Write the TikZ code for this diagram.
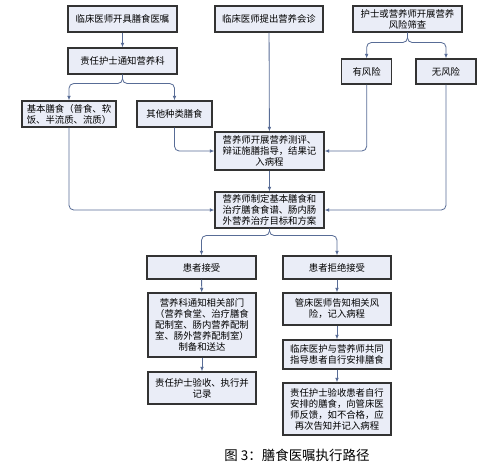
\documentclass[tikz,border=0pt]{standalone}
\usepackage{fontspec}
\usepackage{tikz}
\usetikzlibrary{arrows.meta,positioning,calc,shadows}
\usepackage{xcolor}
\newfontfamily\cjk{Noto Sans CJK SC}
\definecolor{linha}{RGB}{88,108,150}
\definecolor{caixa}{RGB}{234,237,247}

\begin{document}
\begin{tikzpicture}[
    caixa/.style={draw=black!80, line width=0.9pt, fill=caixa, align=center, inner sep=2pt,
        font=\cjk\fontsize{8}{9.4}\selectfont,
        drop shadow={shadow xshift=0.7pt, shadow yshift=-0.7pt, fill=black!30}},
    liga/.style={draw=linha, line width=0.7pt, rounded corners=4pt, -{Latex[length=4pt,width=3.2pt]}}
]
        \useasboundingbox (0,0) rectangle (14.97,-14.19);
        % Primeira linha: origem das solicitações
        \node[caixa, minimum width=3.27cm, minimum height=0.78cm] (medico) at (3.675,-0.57) {临床医师开具膳食医嘱};
        \node[caixa, minimum width=3.24cm, minimum height=0.78cm] (consulta) at (8.07,-0.57) {临床医师提出营养会诊};
        \node[caixa, minimum width=3.27cm, minimum height=0.78cm] (triagem) at (12.225,-0.57) {护士或营养师开展营养\\风险筛查};
        % Ramo esquerdo
        \node[caixa, minimum width=3.27cm, minimum height=0.78cm] (avisa) at (3.675,-1.83) {责任护士通知营养科};
        \node[caixa, minimum width=2.82cm, minimum height=0.78cm, align=left] (basica) at (2.07,-3.42) {基本膳食（普食、软\\饭、半流质、流质）};
        \node[caixa, minimum width=2.25cm, minimum height=0.78cm] (outras) at (5.235,-3.42) {其他种类膳食};
        % Ramo direito
        \node[caixa, minimum width=1.5cm, minimum height=0.75cm] (risco) at (11.0,-2.145) {有风险};
        \node[caixa, minimum width=1.8cm, minimum height=0.75cm] (semrisco) at (13.38,-2.145) {无风险};
        % Centro
        \node[caixa, minimum width=3.27cm, minimum height=1.14cm] (avalia) at (8.085,-4.53) {营养师开展营养测评、\\辩证施膳指导，结果记\\入病程};
        \node[caixa, minimum width=3.27cm, minimum height=1.08cm] (plano) at (8.085,-6.30) {营养师制定基本膳食和\\治疗膳食食谱、肠内肠\\外营养治疗目标和方案};
        % Aceita
        \node[caixa, minimum width=3.27cm, minimum height=0.69cm] (aceita) at (6.045,-8.025) {患者接受};
        \node[caixa, minimum width=3.24cm, minimum height=1.92cm] (setores) at (6.06,-9.75) {营养科通知相关部门\\（营养食堂、治疗膳食\\配制室、肠内营养配制\\室、肠外营养配制室）\\制备和送达};
        \node[caixa, minimum width=3.24cm, minimum height=0.96cm] (confere) at (6.06,-11.64) {责任护士验收、执行并\\记录};
        % Recusa
        \node[caixa, minimum width=3.24cm, minimum height=0.69cm] (recusa) at (10.11,-8.025) {患者拒绝接受};
        \node[caixa, minimum width=3.24cm, minimum height=0.96cm] (riscos) at (10.11,-9.27) {管床医师告知相关风\\险，记入病程};
        \node[caixa, minimum width=3.24cm, minimum height=0.87cm] (orienta) at (10.11,-10.635) {临床医护与营养师共同\\指导患者自行安排膳食};
        \node[caixa, minimum width=3.24cm, minimum height=1.56cm] (retorno) at (10.11,-12.27) {责任护士验收患者自行\\安排的膳食，向管床医\\师反馈，如不合格，应\\再次告知并记入病程};
        % Pontos de divisão
        \coordinate (div1) at ($(avisa.south)+(0,-0.27)$);
        \coordinate (div2) at ($(triagem.south)+(0,-0.3)$);
        \coordinate (div3) at ($(plano.south)+(0,-0.21)$);
        % Ligações
        \draw[liga] (medico) -- (avisa);
        \draw[liga] (avisa.south) |- (div1 -| basica.north) -- (basica.north);
        \draw[liga] (avisa.south) |- (div1 -| outras.north) -- (outras.north);
        \draw[liga] (triagem.south) |- (div2 -| risco.north) -- (risco.north);
        \draw[liga] (triagem.south) |- (div2 -| semrisco.north) -- (semrisco.north);
        \draw[liga] (consulta) -- (avalia);
        \draw[liga] (outras.south) |- (avalia.west);
        \draw[liga] (risco.south) |- (avalia.east);
        \draw[liga] (basica.south) |- (plano.west);
        \draw[liga] (semrisco.south) |- (plano.east);
        \draw[liga] (avalia) -- (plano);
        \draw[liga] (plano.south) |- (div3 -| aceita.north) -- (aceita.north);
        \draw[liga] (plano.south) |- (div3 -| recusa.north) -- (recusa.north);
        \draw[liga] (aceita) -- (setores);
        \draw[liga] (setores) -- (confere);
        \draw[liga] (recusa) -- (riscos);
        \draw[liga] (riscos) -- (orienta);
        \draw[liga] (orienta) -- (retorno);
        % Título
        \node[font=\cjk\fontsize{11.5}{13}\selectfont] (titulo) at (8.91,-13.65) {图 3：膳食医嘱执行路径};
    \end{tikzpicture}
\end{document}
